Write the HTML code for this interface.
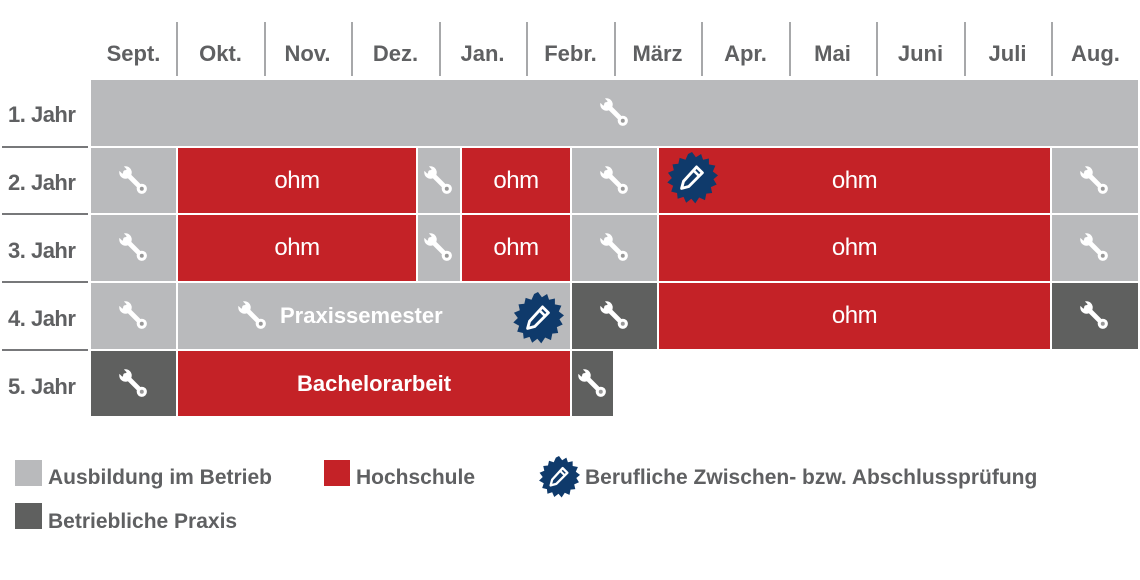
<!DOCTYPE html>
<html><head><meta charset="utf-8"><style>
body{margin:0;width:1140px;height:580px;background:#fff;position:relative;overflow:hidden;font-family:"Liberation Sans",sans-serif;}
.c{position:absolute;display:flex;align-items:center;justify-content:center;}
.g{background:#b9babc}.r{background:#c42227}.d{background:#5f605f}
.h{position:absolute;top:36px;height:36px;line-height:36px;text-align:center;font-weight:bold;font-size:22px;color:#5f6062;width:87px;}
.vl{position:absolute;top:22px;height:54px;width:2px;background:#a7a8aa;}
.lbl{position:absolute;left:8px;font-weight:bold;font-size:22px;color:#5f6062;letter-spacing:-0.5px;}
.hl{position:absolute;left:2px;width:86px;height:2px;background:#77787a;}
.ohm{color:#fff;font-size:24px;letter-spacing:-0.5px;}
.w{width:34px;height:34px;}
.leg{position:absolute;font-weight:bold;font-size:21px;color:#5f6062;}
</style></head><body>
<svg width="0" height="0" style="position:absolute">
<defs>
<mask id="jm" maskUnits="userSpaceOnUse" x="0" y="0" width="24" height="24"><rect x="0" y="0" width="24" height="24" fill="#fff"/><rect x="1" y="3.8" width="6" height="4.4" fill="#000" transform="rotate(45 6 6) translate(-2 0)"/></mask>
<symbol id="wr" viewBox="0 0 24 24">
<line x1="6" y1="6" x2="17" y2="17" stroke="#fff" stroke-width="3.4" stroke-linecap="round"/>
<circle cx="17.5" cy="17.5" r="3.6" fill="#fff"/>
<circle cx="6" cy="6" r="4.4" fill="#fff" mask="url(#jm)"/>
<circle cx="17.5" cy="17.5" r="1.4" fill="#999"/>
</symbol>
<symbol id="bd" viewBox="0 0 40 40">
<polygon fill="#0f3a6b" points="20,0 23,4 27,1.5 28.5,6 33,5 33,9.5 38,10.5 36,15 40,18 36.5,21 39,25 34.5,27 35.5,31.5 31,32 30,37 25.5,35 22.5,39.5 19.5,36 15.5,39 13.5,34.5 9,36 8.5,31.5 4,30.5 5.5,26 1,23.5 4.5,20 1.5,16 6,14 5,9.5 9.5,9 10.5,4.5 15,6 17,1.5"/>
<path d="M23.5 11.5 L28 16 L17.5 26.5 L12 28 L13.5 22.5Z" fill="none" stroke="#fff" stroke-width="2.2" stroke-linejoin="round"/>
<line x1="21" y1="14" x2="25.5" y2="18.5" stroke="#fff" stroke-width="2"/>
</symbol>
</defs></svg>

<div class="h" style="left:90px">Sept.</div><div class="h" style="left:177px">Okt.</div><div class="h" style="left:264px">Nov.</div><div class="h" style="left:352px">Dez.</div><div class="h" style="left:439px">Jan.</div><div class="h" style="left:527px">Febr.</div><div class="h" style="left:614px">März</div><div class="h" style="left:702px">Apr.</div><div class="h" style="left:789px">Mai</div><div class="h" style="left:877px">Juni</div><div class="h" style="left:964px">Juli</div><div class="h" style="left:1052px">Aug.</div>
<div class="vl" style="left:176px"></div><div class="vl" style="left:264px"></div><div class="vl" style="left:351px"></div><div class="vl" style="left:439px"></div><div class="vl" style="left:526px"></div><div class="vl" style="left:614px"></div><div class="vl" style="left:701px"></div><div class="vl" style="left:789px"></div><div class="vl" style="left:876px"></div><div class="vl" style="left:964px"></div><div class="vl" style="left:1051px"></div>

<div class="lbl" style="top:102px">1. Jahr</div><div class="hl" style="top:146px"></div>
<div class="lbl" style="top:170px">2. Jahr</div><div class="hl" style="top:213px"></div>
<div class="lbl" style="top:238px">3. Jahr</div><div class="hl" style="top:281px"></div>
<div class="lbl" style="top:306px">4. Jahr</div><div class="hl" style="top:349px"></div>
<div class="lbl" style="top:374px">5. Jahr</div>

<div class="c g" style="left:91px;top:80px;width:1047px;height:66px"><svg class="w"><use href="#wr"/></svg></div>
<div class="c g" style="left:91px;top:148px;width:85px;height:65px"><svg class="w"><use href="#wr"/></svg></div>
<div class="c r" style="left:178px;top:148px;width:238px;height:65px"><span class="ohm">ohm</span></div>
<div class="c g" style="left:418px;top:148px;width:42px;height:65px"><svg class="w"><use href="#wr"/></svg></div>
<div class="c r" style="left:462px;top:148px;width:108px;height:65px"><span class="ohm">ohm</span></div>
<div class="c g" style="left:572px;top:148px;width:85px;height:65px"><svg class="w"><use href="#wr"/></svg></div>
<div class="c r" style="left:659px;top:148px;width:391px;height:65px"><span class="ohm">ohm</span></div>
<div class="c g" style="left:1052px;top:148px;width:86px;height:65px"><svg class="w"><use href="#wr"/></svg></div>
<svg style="position:absolute;left:666px;top:152px" width="52" height="52"><use href="#bd"/></svg>
<div class="c g" style="left:91px;top:215px;width:85px;height:66px"><svg class="w"><use href="#wr"/></svg></div>
<div class="c r" style="left:178px;top:215px;width:238px;height:66px"><span class="ohm">ohm</span></div>
<div class="c g" style="left:418px;top:215px;width:42px;height:66px"><svg class="w"><use href="#wr"/></svg></div>
<div class="c r" style="left:462px;top:215px;width:108px;height:66px"><span class="ohm">ohm</span></div>
<div class="c g" style="left:572px;top:215px;width:85px;height:66px"><svg class="w"><use href="#wr"/></svg></div>
<div class="c r" style="left:659px;top:215px;width:391px;height:66px"><span class="ohm">ohm</span></div>
<div class="c g" style="left:1052px;top:215px;width:86px;height:66px"><svg class="w"><use href="#wr"/></svg></div>
<div class="c g" style="left:91px;top:283px;width:85px;height:66px"><svg class="w"><use href="#wr"/></svg></div>
<div class="c g" style="left:178px;top:283px;width:392px;height:66px;justify-content:flex-start"><svg class="w" style="margin-left:58px"><use href="#wr"/></svg><span style="color:#fff;font-weight:bold;font-size:22px;margin-left:10px">Praxissemester</span></div>
<svg style="position:absolute;left:512px;top:292px" width="52" height="52"><use href="#bd"/></svg>
<div class="c d" style="left:572px;top:283px;width:85px;height:66px"><svg class="w"><use href="#wr"/></svg></div>
<div class="c r" style="left:659px;top:283px;width:391px;height:66px"><span class="ohm">ohm</span></div>
<div class="c d" style="left:1052px;top:283px;width:86px;height:66px"><svg class="w"><use href="#wr"/></svg></div>
<div class="c d" style="left:91px;top:351px;width:85px;height:65px"><svg class="w"><use href="#wr"/></svg></div>
<div class="c r" style="left:178px;top:351px;width:392px;height:65px"><span style="color:#fff;font-weight:bold;font-size:22px">Bachelorarbeit</span></div>
<div class="c d" style="left:572px;top:351px;width:41px;height:65px"><svg class="w"><use href="#wr"/></svg></div>

<div class="g" style="position:absolute;left:15px;top:460px;width:27px;height:26px"></div>
<div class="leg" style="left:48px;top:466px">Ausbildung im Betrieb</div>
<div class="r" style="position:absolute;left:324px;top:460px;width:26px;height:26px"></div>
<div class="leg" style="left:356px;top:466px">Hochschule</div>
<svg style="position:absolute;left:538px;top:456px" width="42" height="42"><use href="#bd"/></svg>
<div class="leg" style="left:585px;top:466px">Berufliche Zwischen- bzw. Abschlussprüfung</div>
<div class="d" style="position:absolute;left:15px;top:503px;width:27px;height:26px"></div>
<div class="leg" style="left:48px;top:510px">Betriebliche Praxis</div>
</body></html>
